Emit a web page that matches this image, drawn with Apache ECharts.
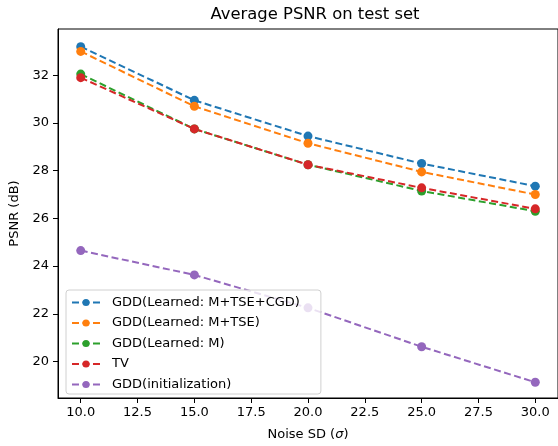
<!DOCTYPE html>
<html>
<head>
<meta charset="utf-8">
<script src="https://cdn.jsdelivr.net/npm/echarts@6/dist/echarts.min.js"></script>
<style>
  html, body { margin: 0; padding: 0; background: #fff; }
  #chart { width: 558px; height: 446px; }
</style>
</head>
<body>
<div id="chart"></div>
<script>
// noise levels (sigma)
const noiseSD = [10, 15, 20, 25, 30];
const xTicks = [10, 12.5, 15, 17.5, 20, 22.5, 25, 27.5, 30];
const yTicks = [20, 22, 24, 26, 28, 30, 32];

// PSNR values
const learnedFull = [33.2, 30.95, 29.45, 28.3, 27.35];
const learnedTSE = [33.0, 30.7, 29.15, 27.95, 27.0];
const learnedM = [32.05, 29.75, 28.25, 27.15, 26.3];
const tv = [31.9, 29.75, 28.25, 27.28, 26.4];
const gddInit = [24.65, 23.63, 22.25, 20.62, 19.13];

const names = ['GDD(Learned: M+TSE+CGD)', 'GDD(Learned: M+TSE)', 'GDD(Learned: M)', 'TV', 'GDD(initialization)'];
const colors = ['#1f77b4', '#ff7f0e', '#2ca02c', '#d62728', '#9467bd'];
const allSeries = [learnedFull, learnedTSE, learnedM, tv, gddInit];

const font = 'DejaVu Sans';

function makeSeries(values, i) {
    return {
        name: names[i],
        type: 'line',
        data: noiseSD.map((x, k) => [x, values[k]]),
        symbol: 'circle',
        symbolSize: 9,
        itemStyle: { color: colors[i] },
        lineStyle: { color: colors[i], width: 2, type: [7, 3.5] },
        emphasis: { disabled: true },
        animation: false
    };
}

const chart = echarts.init(document.getElementById('chart'));
chart.setOption({
    backgroundColor: '#fff',
    animation: false,
    title: {
        text: 'Average PSNR on test set',
        left: 310,
        textAlign: 'center',
        top: 2,
        textStyle: { fontFamily: font, fontSize: 16.4, fontWeight: 'normal', color: '#000' }
    },
    grid: {
        left: 58, top: 29, width: 504, height: 374,
        show: true, borderColor: '#000', borderWidth: 1, backgroundColor: 'transparent'
    },
    legend: {
        orient: 'vertical',
        left: 66,
        top: 290,
        padding: [6, 21, 3, 5],
        itemWidth: 28,
        itemHeight: 9,
        itemGap: 7.5,
        borderColor: '#d0d0d0',
        borderWidth: 1,
        borderRadius: 3,
        backgroundColor: 'rgba(255,255,255,0.8)',
        textStyle: { fontFamily: font, fontSize: 13, color: '#000', padding: [0, 0, 0, 7] },
        data: names
    },
    xAxis: {
        type: 'value',
        min: 9,
        max: 31,
        name: 'Noise SD ({i|σ})',
        nameLocation: 'middle',
        nameGap: 30,
        nameTextStyle: {
            fontFamily: font, fontSize: 13, color: '#000',
            rich: { i: { fontFamily: font, fontSize: 13, fontStyle: 'italic', color: '#000' } }
        },
        axisLine: { show: true, lineStyle: { color: '#000', width: 1 } },
        axisTick: { show: true, inside: false, length: 5, lineStyle: { color: '#000' }, customValues: xTicks },
        axisLabel: {
            fontFamily: font, fontSize: 13, color: '#000', margin: 8,
            customValues: xTicks,
            formatter: v => v.toFixed(1)
        },
        splitLine: { show: false }
    },
    yAxis: {
        type: 'value',
        min: 18.47,
        max: 33.94,
        name: 'PSNR (dB)',
        nameLocation: 'middle',
        nameGap: 28,
        nameTextStyle: { fontFamily: font, fontSize: 13, color: '#000' },
        axisLine: { show: true, lineStyle: { color: '#000', width: 1 } },
        axisTick: { show: true, inside: false, length: 5, lineStyle: { color: '#000' }, customValues: yTicks },
        axisLabel: {
            fontFamily: font, fontSize: 13, color: '#000', margin: 9,
            customValues: yTicks
        },
        splitLine: { show: false }
    },
    series: allSeries.map(makeSeries)
});
</script>
</body>
</html>
